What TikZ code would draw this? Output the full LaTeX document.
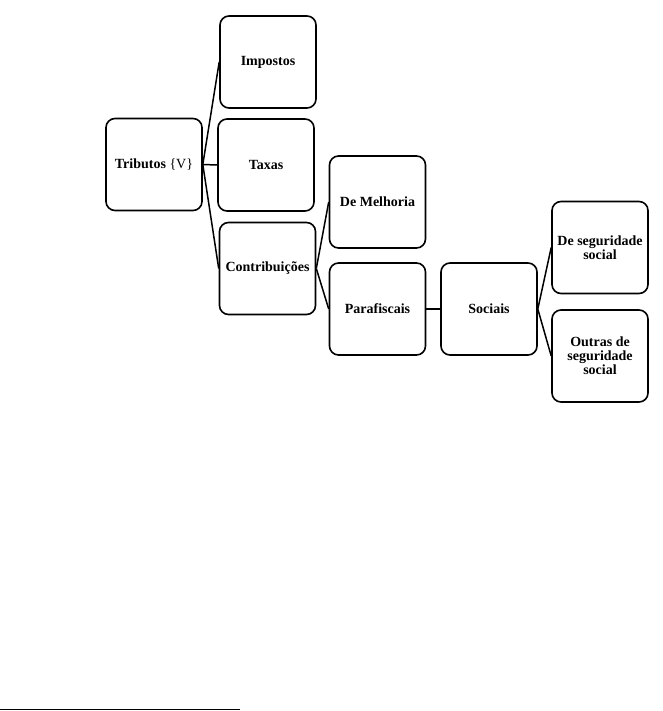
\documentclass[tikz,border=0pt]{standalone}
\usepackage{fontspec}
\setmainfont{Liberation Serif}

\begin{document}
\begin{tikzpicture}[x=1pt, y=-1pt,
    box/.style={draw, line width=1.6pt, rounded corners=9pt,
      minimum width=96pt, minimum height=92pt, align=center, inner sep=2pt,
      font=\fontsize{14}{14}\selectfont\bfseries},
    link/.style={line width=1.5pt}]
  \useasboundingbox (0,0) rectangle (662,711);
  % boxes of the tree, at their place on the page:
  \foreach \name/\x/\y/\txt in {trib/154/164.5/{Tributos \textmd{\{V\}}},
      imp/268/62/Impostos, tax/266/165/Taxas, cont/267.5/268.5/{Contribuições},
      melh/377.5/202/{De Melhoria}, para/377.5/309/Parafiscais,
      soc/489/309/Sociais, seg/600/247.5/{De seguridade\\social},
      out/600/356/{Outras de\\seguridade\\social}} {
    \node [box] (\name) at (\x,\y) {\txt};
  }
  % branches:
  \foreach \a/\b in {trib/imp, trib/tax, trib/cont, cont/melh, cont/para,
      para/soc, soc/seg, soc/out}
    \draw [link] (\a.east) -- (\b.west);
  % footnote rule
  \draw [line width=1pt] (0,709.5) -- (240,709.5);
\end{tikzpicture}
\end{document}
